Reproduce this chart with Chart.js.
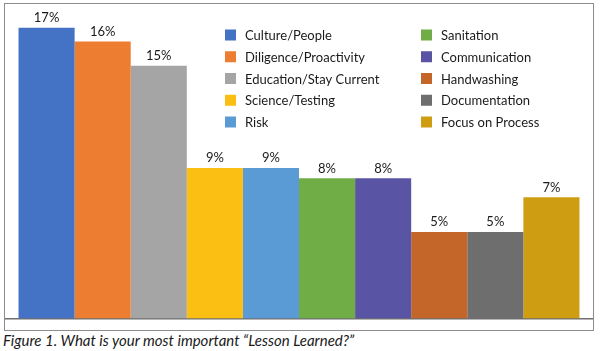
<!DOCTYPE html>
<html>
<head>
<meta charset="utf-8">
<script src="https://cdn.jsdelivr.net/npm/chart.js@4.4.1/dist/chart.umd.min.js"></script>
<style>
  body { margin: 0; background: #fff; }
  #box { position: absolute; left: 4px; top: 3px; width: 590px; height: 328px;
         box-sizing: border-box; border: 1px solid #8c8c8c; }
  #chart { display: block; }
  #caption { position: absolute; left: 3px; top: 331px; font: italic 15px Lato, sans-serif;
             color: #1a1a1a; white-space: nowrap; }
</style>
</head>
<body>
<div id="box"><canvas id="chart" width="588" height="326"></canvas></div>
<div id="caption">Figure 1. What is your most important “Lesson Learned?”</div>
<script>
'use strict';
// one series per lesson, as in the original Excel chart
var lessons = ['Culture/People', 'Diligence/Proactivity', 'Education/Stay Current',
  'Science/Testing', 'Risk', 'Sanitation', 'Communication', 'Handwashing',
  'Documentation', 'Focus on Process'];
var percents = [16.8, 16.0, 14.6, 8.7, 8.7, 8.1, 8.1, 5.0, 5.0, 7.0];
var colors = ['#4472c4', '#ed7d31', '#a5a5a5', '#fbbf14', '#5b9bd5', '#70ad47',
  '#5a54a5', '#c4662a', '#6e6e6e', '#cf9d12'];

var FONT = 'Lato, sans-serif';

// value labels above each bar
var valueLabels = {
  id: 'valueLabels',
  afterDatasetsDraw: function(chart) {
    var ctx = chart.ctx;
    ctx.save();
    ctx.font = '13px ' + FONT;
    ctx.fillStyle = '#1a1a1a';
    ctx.textAlign = 'center';
    ctx.textBaseline = 'middle';
    chart.data.datasets.forEach(function(ds, i) {
      var bar = chart.getDatasetMeta(i).data[0];
      ctx.fillText(Math.round(ds.data[0]) + '%', bar.x, bar.y - 10);
    });
    ctx.restore();
  }
};

// two-column legend floating in the top right of the plot
var columnLegend = {
  id: 'columnLegend',
  afterDraw: function(chart) {
    var ctx = chart.ctx;
    var perCol = 5, colX = [220, 416], rowY = 31, rowH = 21.75, box = 11;
    ctx.save();
    ctx.font = '13px ' + FONT;
    ctx.textBaseline = 'middle';
    ctx.textAlign = 'left';
    chart.data.datasets.forEach(function(ds, i) {
      var x = colX[Math.floor(i / perCol)];
      var y = rowY + (i % perCol) * rowH;
      ctx.fillStyle = ds.backgroundColor;
      ctx.fillRect(x, y - box / 2, box, box);
      ctx.fillStyle = '#1a1a1a';
      ctx.fillText(ds.label, x + 20, y + 1);
    });
    ctx.restore();
  }
};

var datasets = lessons.map(function(name, i) {
  return { label: name, data: [percents[i]], backgroundColor: colors[i],
           barPercentage: 1, categoryPercentage: 0.954 };
});

new Chart(document.getElementById('chart'), {
  type: 'bar',
  data: { labels: [''], datasets: datasets },
  options: {
    responsive: false,
    animation: false,
    layout: { padding: { top: 3, bottom: 3.5, left: 0, right: 0 } },
    plugins: { legend: { display: false }, tooltip: { enabled: false } },
    scales: {
      x: { grid: { display: false }, ticks: { display: false },
           border: { display: true, color: '#6f6f6f', width: 1.5 } },
      y: { display: false, min: 0, max: 18 }
    }
  },
  plugins: [valueLabels, columnLegend]
});
</script>
</body>
</html>
